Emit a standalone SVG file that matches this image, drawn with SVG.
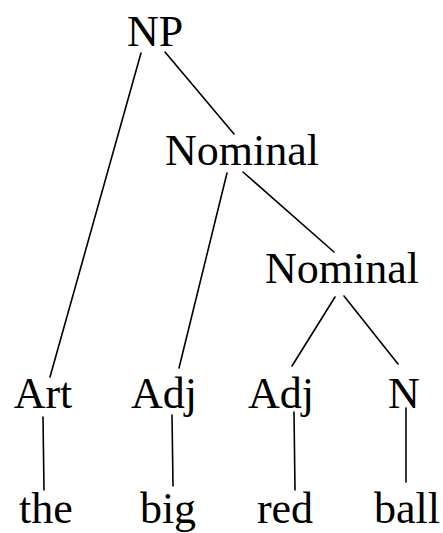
<svg xmlns="http://www.w3.org/2000/svg" width="443" height="533" viewBox="0 0 443 533">
  <style>
    text { font-family: "Liberation Serif", "DejaVu Serif", serif; font-size: 44px; fill: #000; text-anchor: middle; }
    .edge { stroke: #000; stroke-width: 1.6; fill: none; stroke-linecap: round; }
  </style>
  <rect width="443" height="533" fill="#fff"/>
  <g id="connectors">
    <line class="edge" x1="141" y1="53" x2="50" y2="377"/>
    <line class="edge" x1="165" y1="52" x2="234" y2="134"/>
    <line class="edge" x1="227" y1="173" x2="179" y2="368"/>
    <line class="edge" x1="243" y1="172" x2="334" y2="252"/>
    <line class="edge" x1="335" y1="297" x2="292" y2="366"/>
    <line class="edge" x1="344" y1="296" x2="398" y2="364"/>
    <line class="edge" x1="43" y1="417" x2="44" y2="490"/>
    <line class="edge" x1="172" y1="415" x2="173" y2="486"/>
    <line class="edge" x1="294" y1="412" x2="295" y2="490"/>
    <line class="edge" x1="406" y1="408" x2="406" y2="482"/>
  </g>
  <g id="np"><text x="155" y="46">NP</text></g>
  <g id="nominal1"><text x="242" y="165">Nominal</text></g>
  <g id="nominal2"><text x="342" y="283">Nominal</text></g>
  <g id="art"><text x="43" y="408">Art</text></g>
  <g id="adj1"><text x="164" y="408">Adj</text></g>
  <g id="adj2"><text x="281" y="408">Adj</text></g>
  <g id="n"><text x="404" y="408">N</text></g>
  <g id="the"><text x="46" y="523">the</text></g>
  <g id="big"><text x="168" y="523">big</text></g>
  <g id="red"><text x="285" y="523">red</text></g>
  <g id="ball"><text x="407" y="523">ball</text></g>
</svg>
